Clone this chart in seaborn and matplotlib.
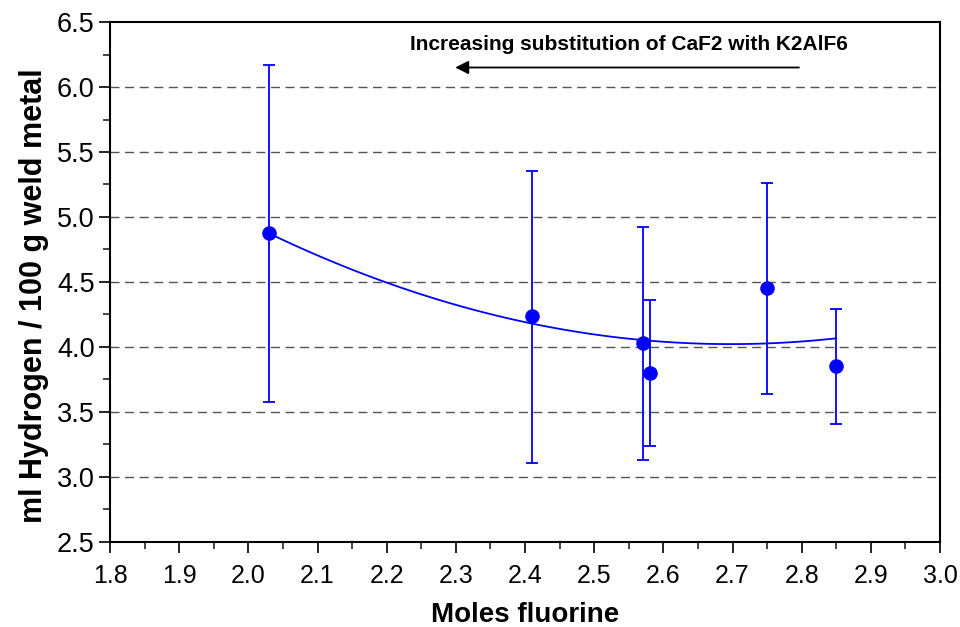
import numpy as np
import pandas as pd
import matplotlib
matplotlib.use("Agg")
import matplotlib.pyplot as plt
import seaborn as sns
from matplotlib.ticker import MultipleLocator

# Data
moles_fluorine = [2.03, 2.41, 2.57, 2.58, 2.75, 2.85]
hydrogen = [4.88, 4.24, 4.03, 3.80, 4.45, 3.85]
err_upper = [6.17, 5.35, 4.92, 4.36, 5.26, 4.29]
err_lower = [3.58, 3.11, 3.13, 3.24, 3.64, 3.41]
x_ticks = [1.8, 1.9, 2.0, 2.1, 2.2, 2.3, 2.4, 2.5, 2.6, 2.7, 2.8, 2.9, 3.0]
y_ticks = [2.5, 3.0, 3.5, 4.0, 4.5, 5.0, 5.5, 6.0, 6.5]
annotation = "Increasing substitution of CaF2 with K2AlF6"

df = pd.DataFrame({"x": moles_fluorine, "y": hydrogen,
                   "hi": err_upper, "lo": err_lower})

sns.set_theme(style="white")
plt.rcParams['font.family'] = ['Liberation Sans', 'DejaVu Sans']
plt.rcParams['text.color'] = 'black'
plt.rcParams['axes.labelcolor'] = 'black'

fig = plt.figure(figsize=(9.6, 6.27), dpi=100)
ax = fig.add_axes([0.1146, 0.1356, 0.8646, 0.8293])

blue = (0, 0, 1)

# horizontal dashed grid lines
for yv in y_ticks[1:-1]:
    ax.axhline(yv, color="#555555", lw=1.0, ls=(0, (6.5, 4)), zorder=0)

# error bars
yerr = np.array([df["y"] - df["lo"], df["hi"] - df["y"]])
ax.errorbar(df["x"], df["y"], yerr=yerr, fmt="none", ecolor=blue,
            elinewidth=1.3, capsize=4, capthick=1.3, zorder=2)

# quadratic trend line
sns.regplot(data=df, x="x", y="y", order=2, ci=None, scatter=False,
            truncate=True, color=blue, line_kws={"lw": 1.3, "zorder": 3}, ax=ax)

# points
sns.scatterplot(data=df, x="x", y="y", color=blue, s=110, edgecolor=blue,
                linewidth=0, zorder=4, ax=ax)

ax.set_xlim(1.8, 3.0)
ax.set_ylim(2.5, 6.5)
ax.set_xticks(x_ticks)
ax.set_yticks(y_ticks)
ax.set_xticklabels([f"{v:.1f}" for v in x_ticks])
ax.set_yticklabels([f"{v:.1f}" for v in y_ticks])
ax.xaxis.set_minor_locator(MultipleLocator(0.05))
ax.yaxis.set_minor_locator(MultipleLocator(0.25))
ax.tick_params(axis="both", which="major", direction="out", length=8, width=1.2,
               colors="black", bottom=True, left=True)
ax.tick_params(axis="x", which="major", labelsize=18, pad=8)
ax.tick_params(axis="y", which="major", labelsize=19.5, pad=3)
ax.tick_params(axis="both", which="minor", direction="out", length=5, width=1.2,
               bottom=True, left=True)
for sp in ax.spines.values():
    sp.set_color("black")
    sp.set_linewidth(1.5)

ax.set_xlabel("Moles fluorine", fontsize=20, fontweight="bold", labelpad=10)
ax.set_ylabel("ml Hydrogen / 100 g weld metal", fontsize=22, fontweight="bold")
ax.yaxis.set_label_coords(-0.073, 0.473)

ax.annotate("", xy=(2.295, 6.15), xytext=(2.80, 6.15),
            arrowprops=dict(arrowstyle="-|>", color="black", lw=1.3,
                            mutation_scale=20))
ax.text(2.55, 6.33, annotation, ha="center", va="center", fontsize=15,
        fontweight="bold")

fig.savefig("out.png", dpi=100)
